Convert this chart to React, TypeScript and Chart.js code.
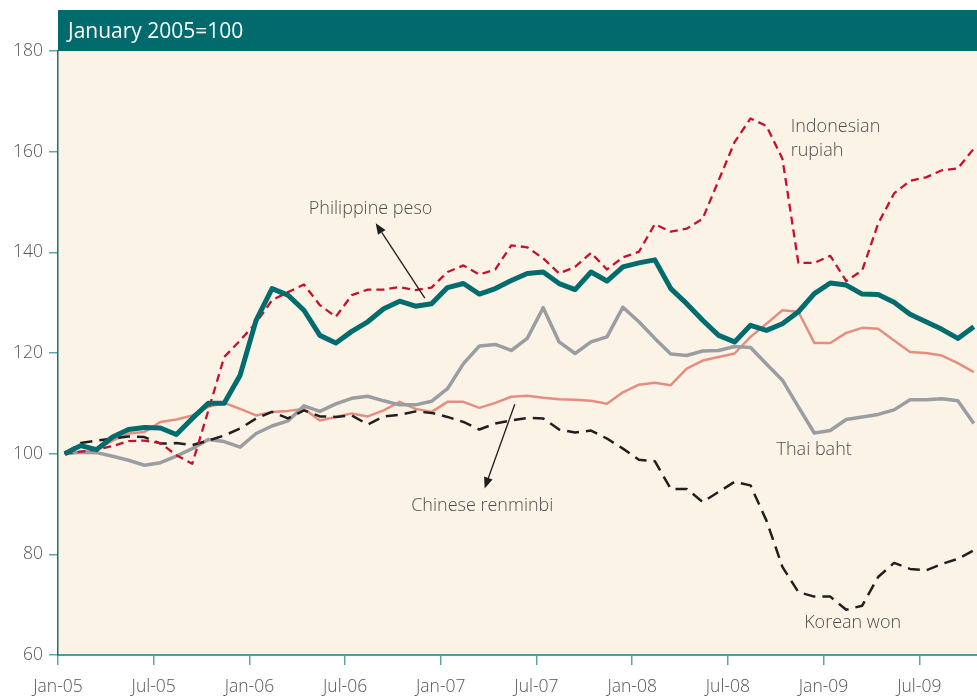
import React, { useEffect, useRef } from "react";
import { Chart, registerables } from "chart.js";

Chart.register(...registerables);

// ---------- data ----------
const tickMonths = [0, 6, 12, 18, 24, 30, 36, 42, 48, 54];
const tickLabels = ["Jan-05", "Jul-05", "Jan-06", "Jul-06", "Jan-07", "Jul-07", "Jan-08", "Jul-08", "Jan-09", "Jul-09"];
const yTickValues = [60, 80, 100, 120, 140, 160, 180];
const panelTitle = "January 2005=100";

const pesoValues = [100, 101.6, 100.8, 103.3, 104.8, 105.2, 105.1, 103.8, 107, 110, 110, 115.6, 126.5, 132.8, 131.5, 128.5, 123.5, 122, 124.3, 126.2, 128.8, 130.3, 129.3, 129.8, 133, 133.8, 131.7, 132.8, 134.4, 135.8, 136.1, 133.8, 132.6, 136.1, 134.3, 137.1, 137.9, 138.5, 132.8, 129.8, 126.5, 123.5, 122.2, 125.5, 124.5, 125.8, 128.2, 131.8, 133.9, 133.5, 131.7, 131.6, 130.1, 127.7, 126.2, 124.7, 122.9, 125.2];
const rupiahValues = [100, 100.4, 100.8, 101.5, 102.5, 102.6, 102.1, 99.7, 98, 108.5, 119.2, 122.5, 126, 130.5, 132.1, 133.6, 129.5, 127.2, 131.5, 132.6, 132.6, 133.1, 132.5, 133, 136.1, 137.4, 135.6, 136.6, 141.4, 141, 138.8, 135.8, 137.1, 139.9, 136.6, 139, 140.1, 145.6, 144.1, 144.7, 146.7, 154.3, 161.9, 166.6, 165.1, 158.6, 137.9, 137.9, 139.3, 134.3, 136.4, 145.7, 151.7, 154.2, 154.9, 156.3, 156.7, 160.6];
const renminbiValues = [100, 100.3, 100.7, 102.6, 104, 104.3, 106.3, 106.8, 107.6, 109.3, 110.1, 108.9, 107.6, 108.3, 108.5, 108.9, 106.6, 107.3, 108, 107.4, 108.6, 110.3, 108.9, 108.3, 110.3, 110.3, 109.1, 110.1, 111.3, 111.5, 111.1, 110.8, 110.7, 110.5, 109.9, 112.2, 113.7, 114.1, 113.6, 116.9, 118.5, 119.2, 119.9, 123.2, 125.8, 128.5, 128.2, 122, 122, 124, 125, 124.8, 122.5, 120.2, 120, 119.5, 118, 116.2];
const bahtValues = [100, 100.3, 100.2, 99.5, 98.7, 97.7, 98.2, 99.5, 101, 102.8, 102.4, 101.3, 104, 105.5, 106.5, 109.5, 108.4, 109.9, 111, 111.4, 110.5, 109.7, 109.7, 110.4, 112.9, 117.9, 121.4, 121.7, 120.5, 122.9, 129, 122.2, 119.9, 122.2, 123.2, 129.1, 126.2, 122.9, 119.8, 119.5, 120.4, 120.5, 121.3, 121.1, 117.8, 114.6, 109.3, 104.1, 104.6, 106.8, 107.3, 107.8, 108.7, 110.7, 110.7, 110.9, 110.5, 106];
const wonValues = [100, 102.1, 102.6, 103, 103.4, 103.3, 102, 102.1, 101.7, 102.6, 103.6, 105, 107, 108.3, 107, 108.6, 107.4, 107.3, 107.6, 105.8, 107.4, 107.7, 108.4, 108.1, 107.3, 106.3, 104.8, 106, 106.6, 107.1, 107, 104.8, 104.2, 104.6, 103, 101, 98.8, 98.5, 93, 93, 90.4, 92.4, 94.4, 93.7, 86.7, 77.5, 72.5, 71.6, 71.6, 69, 69.8, 75.5, 78.3, 77.1, 76.8, 78.1, 79.1, 80.8];

// text annotations in data coordinates (month index, index value)
const labelTexts = ["Indonesian", "rupiah", "Philippine peso", "Thai baht", "Chinese renminbi", "Korean won"];
const labelMonths = [45.94, 45.94, 19.6, 47.41, 26.6, 49.82];
const labelValues = [164.9, 160.1, 148.6, 100.85, 89.7, 66.3];
const labelAligns = ["left", "left", "center", "center", "center", "center"];

// arrows: [tailMonth, tailValue, headMonth, headValue]
const arrowDefs = [
  [23.0, 130.9, 19.92, 145.8],
  [28.64, 109.8, 26.75, 93.1],
];

const POINT_OFFSET = 0.42;
const toPoints = (vals: number[]) => vals.map((v, i) => ({ x: i + POINT_OFFSET, y: v }));

const FONT = "'Open Sans', 'Noto Sans', sans-serif";

const decorPlugin = {
  id: "decor",
  beforeDraw(chart: any) {
    const { ctx, chartArea: a } = chart;
    ctx.save();
    ctx.fillStyle = "#FBF4E6";
    ctx.fillRect(a.left, a.top - 1, a.right - a.left, a.bottom - a.top + 1);
    ctx.fillStyle = "#006A6D";
    ctx.fillRect(a.left, 10, a.right - a.left, a.top - 10);
    ctx.fillStyle = "#ffffff";
    ctx.font = `400 21px ${FONT}`;
    ctx.textBaseline = "alphabetic";
    ctx.textAlign = "left";
    ctx.fillText(panelTitle, a.left + 10, 38);
    ctx.restore();
  },
  afterDatasetsDraw(chart: any) {
    const { ctx } = chart;
    const xs = chart.scales.x;
    const ys = chart.scales.y;
    ctx.save();
    ctx.fillStyle = "#4d4d4d";
    ctx.font = `300 18px ${FONT}`;
    ctx.textBaseline = "middle";
    labelTexts.forEach((t, i) => {
      ctx.textAlign = labelAligns[i];
      ctx.fillText(t, xs.getPixelForValue(labelMonths[i]), ys.getPixelForValue(labelValues[i]));
    });
    ctx.strokeStyle = "#1e1e1e";
    ctx.fillStyle = "#1e1e1e";
    ctx.lineWidth = 1.3;
    arrowDefs.forEach(([tm, tv, hm, hv]) => {
      const x1 = xs.getPixelForValue(tm), y1 = ys.getPixelForValue(tv);
      const x2 = xs.getPixelForValue(hm), y2 = ys.getPixelForValue(hv);
      const ang = Math.atan2(y2 - y1, x2 - x1);
      const len = 11, wid = 4.5;
      const bx = x2 - len * Math.cos(ang), by = y2 - len * Math.sin(ang);
      ctx.beginPath();
      ctx.moveTo(x1, y1);
      ctx.lineTo(bx, by);
      ctx.stroke();
      ctx.beginPath();
      ctx.moveTo(x2, y2);
      ctx.lineTo(bx + wid * Math.sin(ang), by - wid * Math.cos(ang));
      ctx.lineTo(bx - wid * Math.sin(ang), by + wid * Math.cos(ang));
      ctx.closePath();
      ctx.fill();
    });
    ctx.restore();
  },
};

export default function App() {
  const ref = useRef<HTMLCanvasElement | null>(null);
  useEffect(() => {
    if (!ref.current) return;
    const common = { pointRadius: 0, tension: 0, fill: false, borderJoinStyle: "round" as const };
    const chart = new Chart(ref.current, {
      type: "line",
      data: {
        datasets: [
          { ...common, label: "Philippine peso", data: toPoints(pesoValues), borderColor: "#006C6E", borderWidth: 5 },
          { ...common, label: "Indonesian rupiah", data: toPoints(rupiahValues), borderColor: "#C8102E", borderWidth: 2.3, borderDash: [8, 5] },
          { ...common, label: "Korean won", data: toPoints(wonValues), borderColor: "#231F20", borderWidth: 2.5, borderDash: [12, 7] },
          { ...common, label: "Thai baht", data: toPoints(bahtValues), borderColor: "#9A9DA1", borderWidth: 3.5 },
          { ...common, label: "Chinese renminbi", data: toPoints(renminbiValues), borderColor: "#E58E80", borderWidth: 2.5 },
        ],
      },
      options: {
        responsive: false,
        animation: false,
        layout: { padding: { top: 51, left: 0, right: 0, bottom: 0 } },
        plugins: { legend: { display: false }, tooltip: { enabled: false }, title: { display: false } },
        scales: {
          x: {
            type: "linear",
            min: 0,
            max: 57.62,
            afterFit: (s: any) => { s.height = 43; },
            afterBuildTicks: (s: any) => { s.ticks = tickMonths.map((v) => ({ value: v })); },
            ticks: {
              autoSkip: false,
              maxRotation: 0,
              padding: 12,
              color: "#555555",
              font: { family: FONT, size: 17.5, weight: "300" },
              callback: (v: any) => { const k = tickMonths.indexOf(Number(v)); return k >= 0 ? tickLabels[k] : ""; },
            },
            grid: { drawOnChartArea: false, drawTicks: true, tickLength: 10, color: "#5AA6A9", lineWidth: 1.5 },
            border: { display: true, color: "#4A9EA1", width: 2 },
          },
          y: {
            type: "linear",
            min: 60,
            max: 180,
            afterFit: (s: any) => { s.width = 58; },
            afterBuildTicks: (s: any) => { s.ticks = yTickValues.map((v) => ({ value: v })); },
            ticks: {
              padding: 6,
              color: "#555555",
              font: { family: FONT, size: 17.5, weight: "300" },
            },
            grid: { drawOnChartArea: false, drawTicks: true, tickLength: 9, color: "#5AA6A9", lineWidth: 1.5 },
            border: { display: true, color: "#1F6F73", width: 1.5 },
          },
        },
      },
      plugins: [decorPlugin],
    });
    return () => chart.destroy();
  }, []);
  return (
    <div style={{ position: "absolute", left: 0, top: 0, width: 977, height: 698, background: "#ffffff" }}>
      <canvas ref={ref} width={977} height={698} style={{ display: "block" }} />
    </div>
  );
}
